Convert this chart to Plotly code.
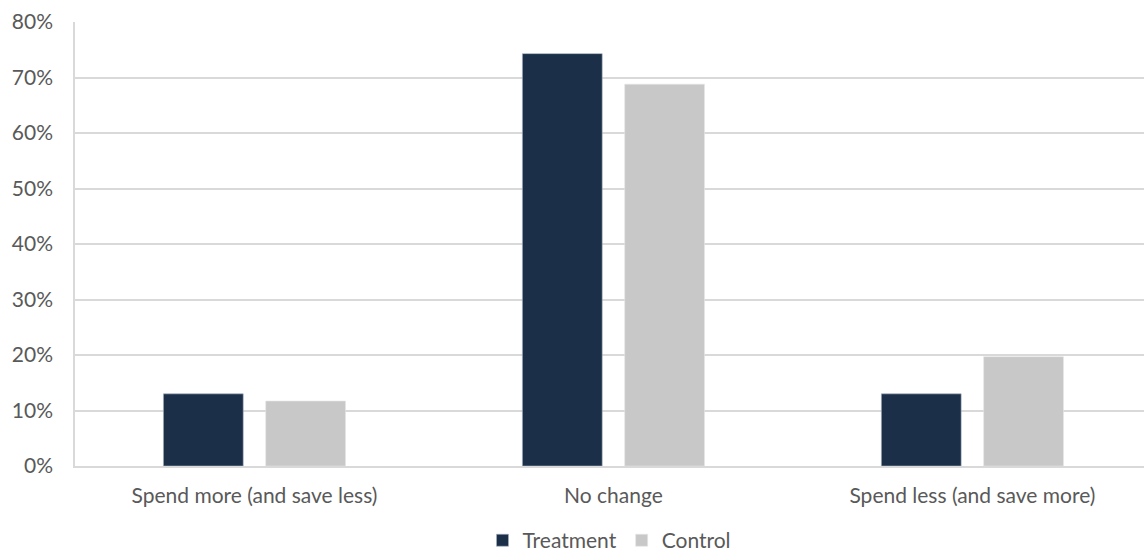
import plotly.graph_objects as go

categories = ["Spend more (and save less)", "No change", "Spend less (and save more)"]
treatment = [0.130, 0.743, 0.130]
control = [0.117, 0.688, 0.197]
y_ticks = [0, 0.1, 0.2, 0.3, 0.4, 0.5, 0.6, 0.7, 0.8]
y_tick_labels = ["0%", "10%", "20%", "30%", "40%", "50%", "60%", "70%", "80%"]

FONT = "Lato, 'Open Sans', sans-serif"
TEXT = "#595959"
GRID = "#D9D9D9"

fig = go.Figure()
fig.add_bar(name="Treatment", x=categories, y=treatment,
            marker=dict(color="#1B2F48", line=dict(color="#A9B3C1", width=0.6)))
fig.add_bar(name="Control", x=categories, y=control,
            marker=dict(color="#C8C8C8", line=dict(color="#E6E6E6", width=0.6)))

fig.update_layout(
    width=1144, height=560,
    margin=dict(l=75, r=0, t=22, b=94, autoexpand=False),
    paper_bgcolor="white", plot_bgcolor="white",
    barmode="group", bargap=0.43, bargroupgap=0.22,
    font=dict(family=FONT, size=21, color=TEXT),
    legend=dict(orientation="h", x=0.5, xanchor="center", y=-0.168, yanchor="middle",
                font=dict(size=21, color=TEXT), itemwidth=30, traceorder="normal",
                borderwidth=0, tracegroupgap=0),
    xaxis=dict(range=[-0.5, 2.478], showgrid=False, showline=True, linecolor=GRID,
               linewidth=1.5, ticks="", tickfont=dict(size=21, color=TEXT),
               ticklabelstandoff=10, automargin=False),
    yaxis=dict(range=[0, 0.8], tickvals=y_ticks, ticktext=y_tick_labels,
               showgrid=True, gridcolor=GRID, gridwidth=1.5, zeroline=False,
               showline=True, linecolor=GRID, linewidth=1.5, ticks="",
               tickfont=dict(size=21, color=TEXT), ticklabelstandoff=16,
               automargin=False),
)

fig.write_html("out.html")
